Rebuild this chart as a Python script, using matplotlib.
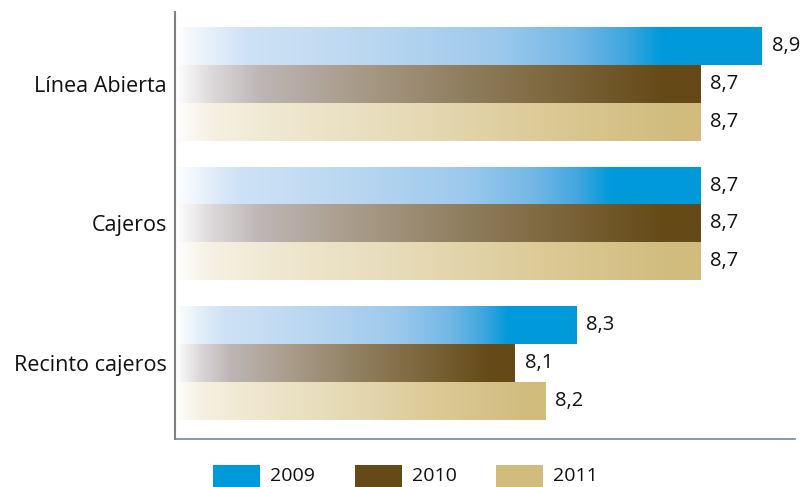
import numpy as np
import matplotlib
matplotlib.use("Agg")
import matplotlib.pyplot as plt
from matplotlib.colors import LinearSegmentedColormap
from matplotlib.patches import Rectangle

plt.rcParams['font.family'] = ['Open Sans', 'DejaVu Sans']

# datos
categorias = ['Línea Abierta', 'Cajeros', 'Recinto cajeros']
anios = ['2009', '2010', '2011']
valores_2009 = [8.9, 8.7, 8.3]
valores_2010 = [8.7, 8.7, 8.1]
valores_2011 = [8.7, 8.7, 8.2]
etiquetas_2009 = ['8,9', '8,7', '8,3']
etiquetas_2010 = ['8,7', '8,7', '8,1']
etiquetas_2011 = ['8,7', '8,7', '8,2']

colores = ['#009ADA', '#654A18', '#D1BC7E']

# degradados de cada serie (blanco -> color)
cmaps = [
    LinearSegmentedColormap.from_list('c2009', [
        (0.0, '#FFFFFF'), (0.06, '#E4EFFA'), (0.12, '#CFE2F5'), (0.35, '#B8D6F0'),
        (0.55, '#9DC9EC'), (0.68, '#74B8E6'), (0.77, '#3FA6DF'), (0.83, '#009ADA'),
        (1.0, '#009ADA')]),
    LinearSegmentedColormap.from_list('c2010', [
        (0.0, '#FFFFFF'), (0.07, '#DCD8DA'), (0.16, '#BDB6B5'), (0.35, '#A89A88'),
        (0.55, '#8F7E5E'), (0.75, '#7A6338'), (0.93, '#654A18'), (1.0, '#654A18')]),
    LinearSegmentedColormap.from_list('c2011', [
        (0.0, '#FFFFFF'), (0.07, '#F5F0E2'), (0.2, '#EFE7D0'), (0.45, '#E6DAB6'),
        (0.7, '#DCCA96'), (0.95, '#D1BC7E'), (1.0, '#D1BC7E')]),
]

x_min, x_max = 7.0, 9.007
alto = 0.272

fig = plt.figure(figsize=(8.05, 4.87), dpi=100)
ax = fig.add_axes([175 / 805, 1 - 439 / 487, 620 / 805, 427 / 487])

series = [valores_2009, valores_2010, valores_2011]
etiquetas = [etiquetas_2009, etiquetas_2010, etiquetas_2011]
grad = np.linspace(0, 1, 256).reshape(1, -1)

for j, (vals, labs, cmap) in enumerate(zip(series, etiquetas, cmaps)):
    for i, v in enumerate(vals):
        yc = i + (j - 1) * alto
        ax.imshow(grad, cmap=cmap, aspect='auto', interpolation='bilinear',
                  extent=(x_min, v, yc + alto / 2, yc - alto / 2), zorder=2)
        ax.annotate(labs[i], xy=(v, yc), xytext=(7, 0), textcoords='offset points',
                    va='center', ha='left', fontsize=14.5, color='#111111')

ax.set_xlim(x_min, x_max)
ax.set_ylim(2.545, -0.516)
ax.set_yticks(range(len(categorias)))
ax.set_yticklabels(categorias, fontsize=15.5, color='#111111')
ax.set_xticks([])
ax.tick_params(axis='y', length=0, pad=6)

for s in ['top', 'right']:
    ax.spines[s].set_visible(False)
ax.spines['left'].set_color('#7F7F7F')
ax.spines['left'].set_linewidth(1.5)
ax.spines['bottom'].set_color('#7A84A0')
ax.spines['bottom'].set_linewidth(1.2)

# leyenda
W, H = 805, 487
for k, (anio, col) in enumerate(zip(anios, colores)):
    x0 = [213, 355, 496][k]
    fig.add_artist(Rectangle((x0 / W, 0), 47 / W, 22 / H, transform=fig.transFigure,
                             facecolor=col, edgecolor='none'))
    fig.text((x0 + 57) / W, 1 - 476 / H, anio, fontsize=14, va='center', ha='left',
             color='#111111')

fig.savefig('out.png', dpi=100)
